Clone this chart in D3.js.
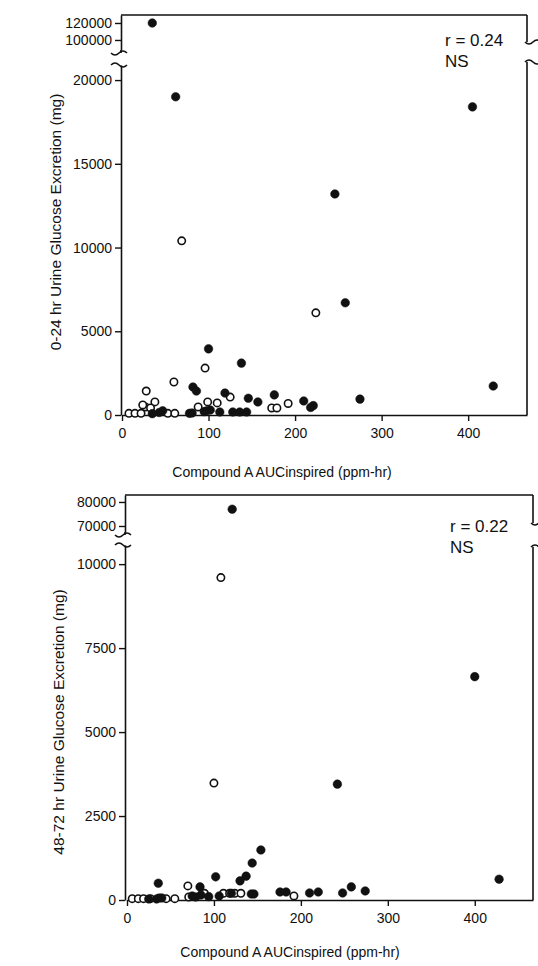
<!DOCTYPE html>
<html>
<head>
<meta charset="utf-8">
<script src="https://cdn.jsdelivr.net/npm/d3@7"></script>
<style>
  body { margin: 0; background: #fff; }
  text { font-family: "Liberation Sans", Arial, sans-serif; fill: #111; }
</style>
</head>
<body>
<div id="chart"></div>
<script>
// ---- data (x = ppm-hr, y = mg) ----
const xTicks = [0, 100, 200, 300, 400];

// 0-24 hr panel
const topFilledX = [35, 62, 405, 246, 258, 100, 138, 82, 86, 119, 176, 146, 157, 210, 221, 275, 429,
                    43, 47, 78, 95, 102, 113, 128, 136, 144, 35, 81, 98, 218];
const topFilledY = [120000, 19000, 18400, 13200, 6700, 3950, 3100, 1670, 1430, 1310, 1200, 1000, 780, 840, 560, 950, 1730,
                    150, 250, 100, 200, 300, 180, 180, 180, 180, 80, 120, 250, 450];
const topOpenX = [69, 224, 96, 60, 28, 38, 27, 99, 110, 125, 192, 173, 179, 8, 15, 22, 24, 33, 53, 61, 88];
const topOpenY = [10400, 6100, 2800, 1970, 1430, 780, 480, 780, 720, 1070, 690, 420, 420, 100, 100, 100, 600, 420, 100, 100, 480];
const topLowTicks = [0, 5000, 10000, 15000, 20000];
const topHighTicks = [100000, 120000];

// 48-72 hr panel
const botFilledX = [121, 400, 242, 154, 144, 137, 130, 102, 36, 84, 258, 274, 248, 428, 176, 183, 210, 220, 143, 146,
                    25, 34, 40, 75, 85, 94, 106, 120, 79];
const botFilledY = [77000, 6650, 3450, 1490, 1100, 710, 570, 690, 500, 390, 390, 270, 210, 620, 240, 240, 210, 240, 180, 180,
                    30, 30, 60, 120, 150, 100, 120, 200, 90];
const botOpenX = [108, 100, 70, 192, 6, 13, 19, 27, 37, 45, 55, 71, 89, 111, 118, 124, 131];
const botOpenY = [9600, 3480, 420, 120, 40, 40, 40, 40, 60, 40, 40, 90, 200, 200, 200, 200, 200];
const botLowTicks = [0, 2500, 5000, 7500, 10000];
const botHighTicks = [70000, 80000];

const W = 538, H = 966;
const svg = d3.select("#chart").append("svg")
    .attr("width", W)
    .attr("height", H);

function toPoints(xs, ys, filled) {
    return xs.map((x, i) => ({ x: x, y: ys[i], filled: filled }));
}

// small "~" used at the axis breaks
function brace(cx, cy, w, dir) {
    const h = 4 * dir;
    return `M${cx - w / 2},${cy} q${w / 4},${-h} ${w / 2},0 t${w / 2},0`;
}

function drawPanel(cfg) {
    const g = svg.append("g");

    const x = d3.scaleLinear().domain([0, cfg.xMax]).range([cfg.x0, cfg.right]);
    const yLow = d3.scaleLinear().domain([0, cfg.lowMax]).range([cfg.zeroY, cfg.lowerTop]);
    const yHigh = d3.scaleLinear().domain(cfg.highDomain).range([cfg.upperBottom, cfg.upperTop]);

    // axes
    g.append("g")
        .attr("transform", `translate(0,${cfg.zeroY})`)
        .call(d3.axisBottom(x).tickValues(xTicks).tickSize(6).tickSizeOuter(0).tickPadding(7));

    g.append("g")
        .attr("transform", `translate(${cfg.axisX},0)`)
        .call(d3.axisLeft(yLow).tickValues(cfg.lowTicks).tickSize(6).tickSizeOuter(0).tickPadding(3)
            .tickFormat(d3.format("d")));

    g.append("g")
        .attr("transform", `translate(${cfg.axisX},0)`)
        .call(d3.axisLeft(yHigh).tickValues(cfg.highTicks).tickSize(6).tickSizeOuter(0).tickPadding(3)
            .tickFormat(d3.format("d")));

    g.selectAll(".domain").attr("stroke", "#111").attr("stroke-width", 1.6);
    g.selectAll(".tick line").attr("stroke", "#111").attr("stroke-width", 1.4);
    g.selectAll(".tick text").style("font-size", "14px").attr("fill", "#111");

    // box: top and right borders, with the breaks
    const frame = g.append("g").attr("fill", "none").attr("stroke", "#111").attr("stroke-width", 1.6);
    frame.append("line")
        .attr("x1", cfg.axisX).attr("x2", cfg.right)
        .attr("y1", cfg.upperTop).attr("y2", cfg.upperTop);
    frame.append("line")
        .attr("x1", cfg.right).attr("x2", cfg.right)
        .attr("y1", cfg.upperTop).attr("y2", cfg.rBreakTop);
    frame.append("line")
        .attr("x1", cfg.right).attr("x2", cfg.right)
        .attr("y1", cfg.rBreakBottom).attr("y2", cfg.zeroY);
    frame.append("line")
        .attr("x1", cfg.axisX).attr("x2", cfg.axisX)
        .attr("y1", cfg.upperBottom).attr("y2", cfg.upperBottom + 3);
    frame.append("path").attr("d", brace(cfg.axisX - 2, cfg.upperBottom + 3, 16, -1));
    frame.append("path").attr("d", brace(cfg.axisX - 2, cfg.lowerTop, 16, 1));
    frame.append("path").attr("d", brace(cfg.right + 6, cfg.rBreakTop, 16, -1));
    frame.append("path").attr("d", brace(cfg.right + 6, cfg.rBreakBottom, 16, 1));

    // points
    const pts = toPoints(cfg.openX, cfg.openY, false).concat(toPoints(cfg.filledX, cfg.filledY, true));
    const yOf = d => d.y > cfg.lowMax ? yHigh(d.y) : yLow(d.y);

    g.selectAll("circle.pt")
        .data(pts)
        .enter().append("circle")
        .attr("class", "pt")
        .attr("cx", d => x(d.x))
        .attr("cy", yOf)
        .attr("r", d => d.filled ? 4.3 : 3.7)
        .attr("fill", d => d.filled ? "#111" : "#fff")
        .attr("stroke", "#111")
        .attr("stroke-width", d => d.filled ? 0.5 : 1.6);

    // labels
    g.append("text")
        .attr("x", cfg.statX).attr("y", cfg.statY)
        .style("font-size", "17px")
        .text(cfg.stat);
    g.append("text")
        .attr("x", cfg.statX).attr("y", cfg.statY + 21)
        .style("font-size", "17px")
        .text("NS");

    g.append("text")
        .attr("x", cfg.xTitleX).attr("y", cfg.xTitleY)
        .attr("text-anchor", "middle")
        .style("font-size", "14px")
        .text("Compound A AUCinspired (ppm-hr)");

    g.append("text")
        .attr("transform", `translate(${cfg.yTitleX},${cfg.yTitleY}) rotate(-90)`)
        .attr("text-anchor", "middle")
        .style("font-size", "15.5px")
        .text(cfg.yTitle);
}

drawPanel({
    x0: 122, right: 527, xMax: 468, axisX: 121,
    zeroY: 415, lowerTop: 65, lowMax: 20900,
    upperTop: 15, upperBottom: 50, highDomain: [88200, 129400],
    rBreakTop: 42, rBreakBottom: 62,
    lowTicks: topLowTicks, highTicks: topHighTicks,
    filledX: topFilledX, filledY: topFilledY, openX: topOpenX, openY: topOpenY,
    stat: "r = 0.24", statX: 445, statY: 46,
    xTitleX: 282, xTitleY: 477,
    yTitle: "0-24 hr Urine Glucose Excretion (mg)", yTitleX: 61, yTitleY: 222
});

drawPanel({
    x0: 127, right: 533, xMax: 467, axisX: 125,
    zeroY: 900, lowerTop: 545, lowMax: 10570,
    upperTop: 495, upperBottom: 532, highDomain: [67500, 82900],
    rBreakTop: 523, rBreakBottom: 547,
    lowTicks: botLowTicks, highTicks: botHighTicks,
    filledX: botFilledX, filledY: botFilledY, openX: botOpenX, openY: botOpenY,
    stat: "r = 0.22", statX: 450, statY: 532,
    xTitleX: 290, xTitleY: 957,
    yTitle: "48-72 hr Urine Glucose Excretion (mg)", yTitleX: 64, yTitleY: 722
});
</script>
</body>
</html>
